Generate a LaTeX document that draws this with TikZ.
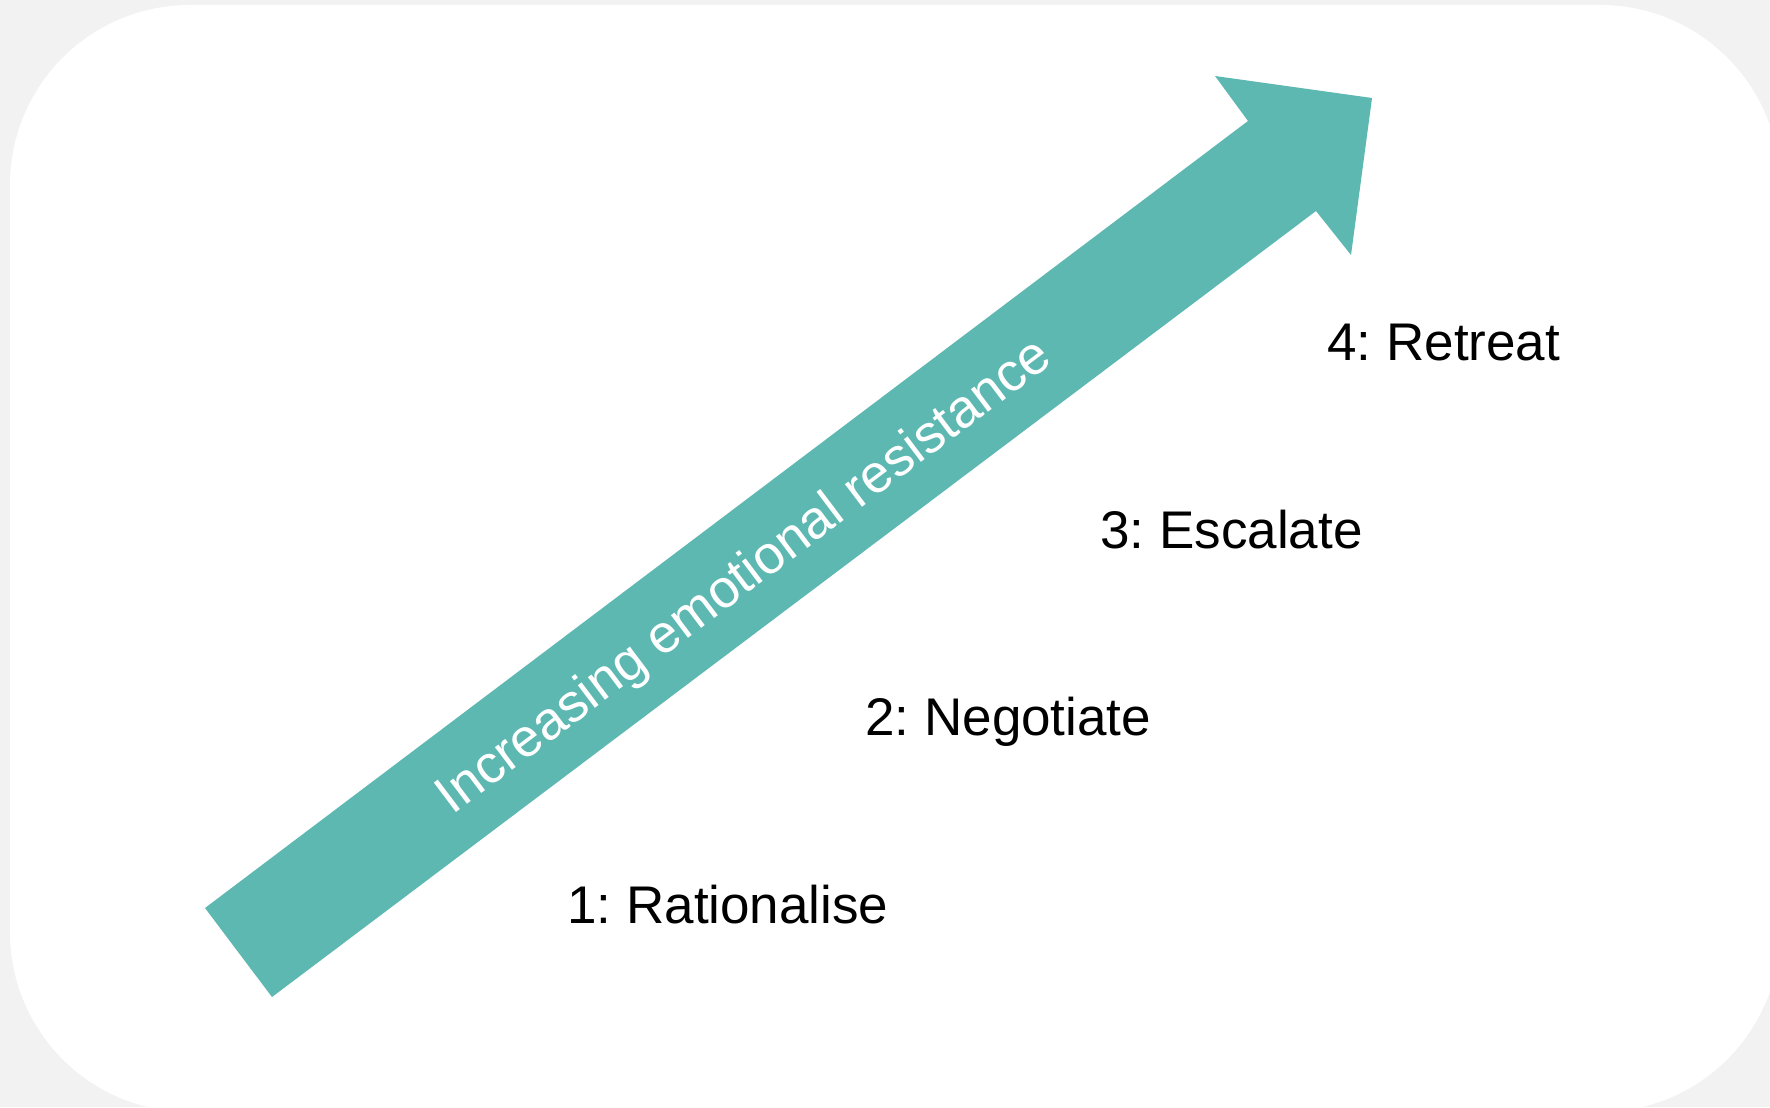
\documentclass[tikz,border=0pt]{standalone}
\usepackage{fontspec}
\setmainfont{Liberation Sans}
\frenchspacing
\definecolor{panelgrey}{RGB}{242,242,242}
\definecolor{arrowteal}{RGB}{93,184,178}

\begin{document}
\begin{tikzpicture}[x=0.5pt,y=-0.5pt,
  stage/.style={anchor=base west, inner sep=0pt, font=\fontsize{26.5}{31}\selectfont},
  trend/.style={text=white, inner sep=0pt, font=\fontsize{26.8}{32}\selectfont}]
\useasboundingbox (0,0) rectangle (1770,1107);
\fill[panelgrey] (0,0) rectangle (1770,1107);
\fill[white, rounded corners=90pt] (10,5) rectangle (1780,1112);

% the big rising arrow
\coordinate (tailA) at (205,908);
\coordinate (tailB) at (272,997);
\coordinate (neckA) at (1248,121);
\coordinate (neckB) at (1316,211);
\coordinate (barbA) at (1215,76);
\coordinate (barbB) at (1351,255);
\coordinate (tip) at (1372,98);
\fill[arrowteal] (tailA) -- (neckA) -- (barbA) -- (tip) -- (barbB) -- (neckB) -- (tailB) -- cycle;

\node[trend, rotate=37] (rise) at (745,578) {Increasing emotional resistance};

% the four stages
\node[stage] (rationalise) at (567,923) {1: Rationalise};
\node[stage] (negotiate) at (865,735) {2: Negotiate};
\node[stage] (escalate) at (1100,548) {3: Escalate};
\node[stage] (retreat) at (1327,360) {4: Retreat};

\end{tikzpicture}
\end{document}
